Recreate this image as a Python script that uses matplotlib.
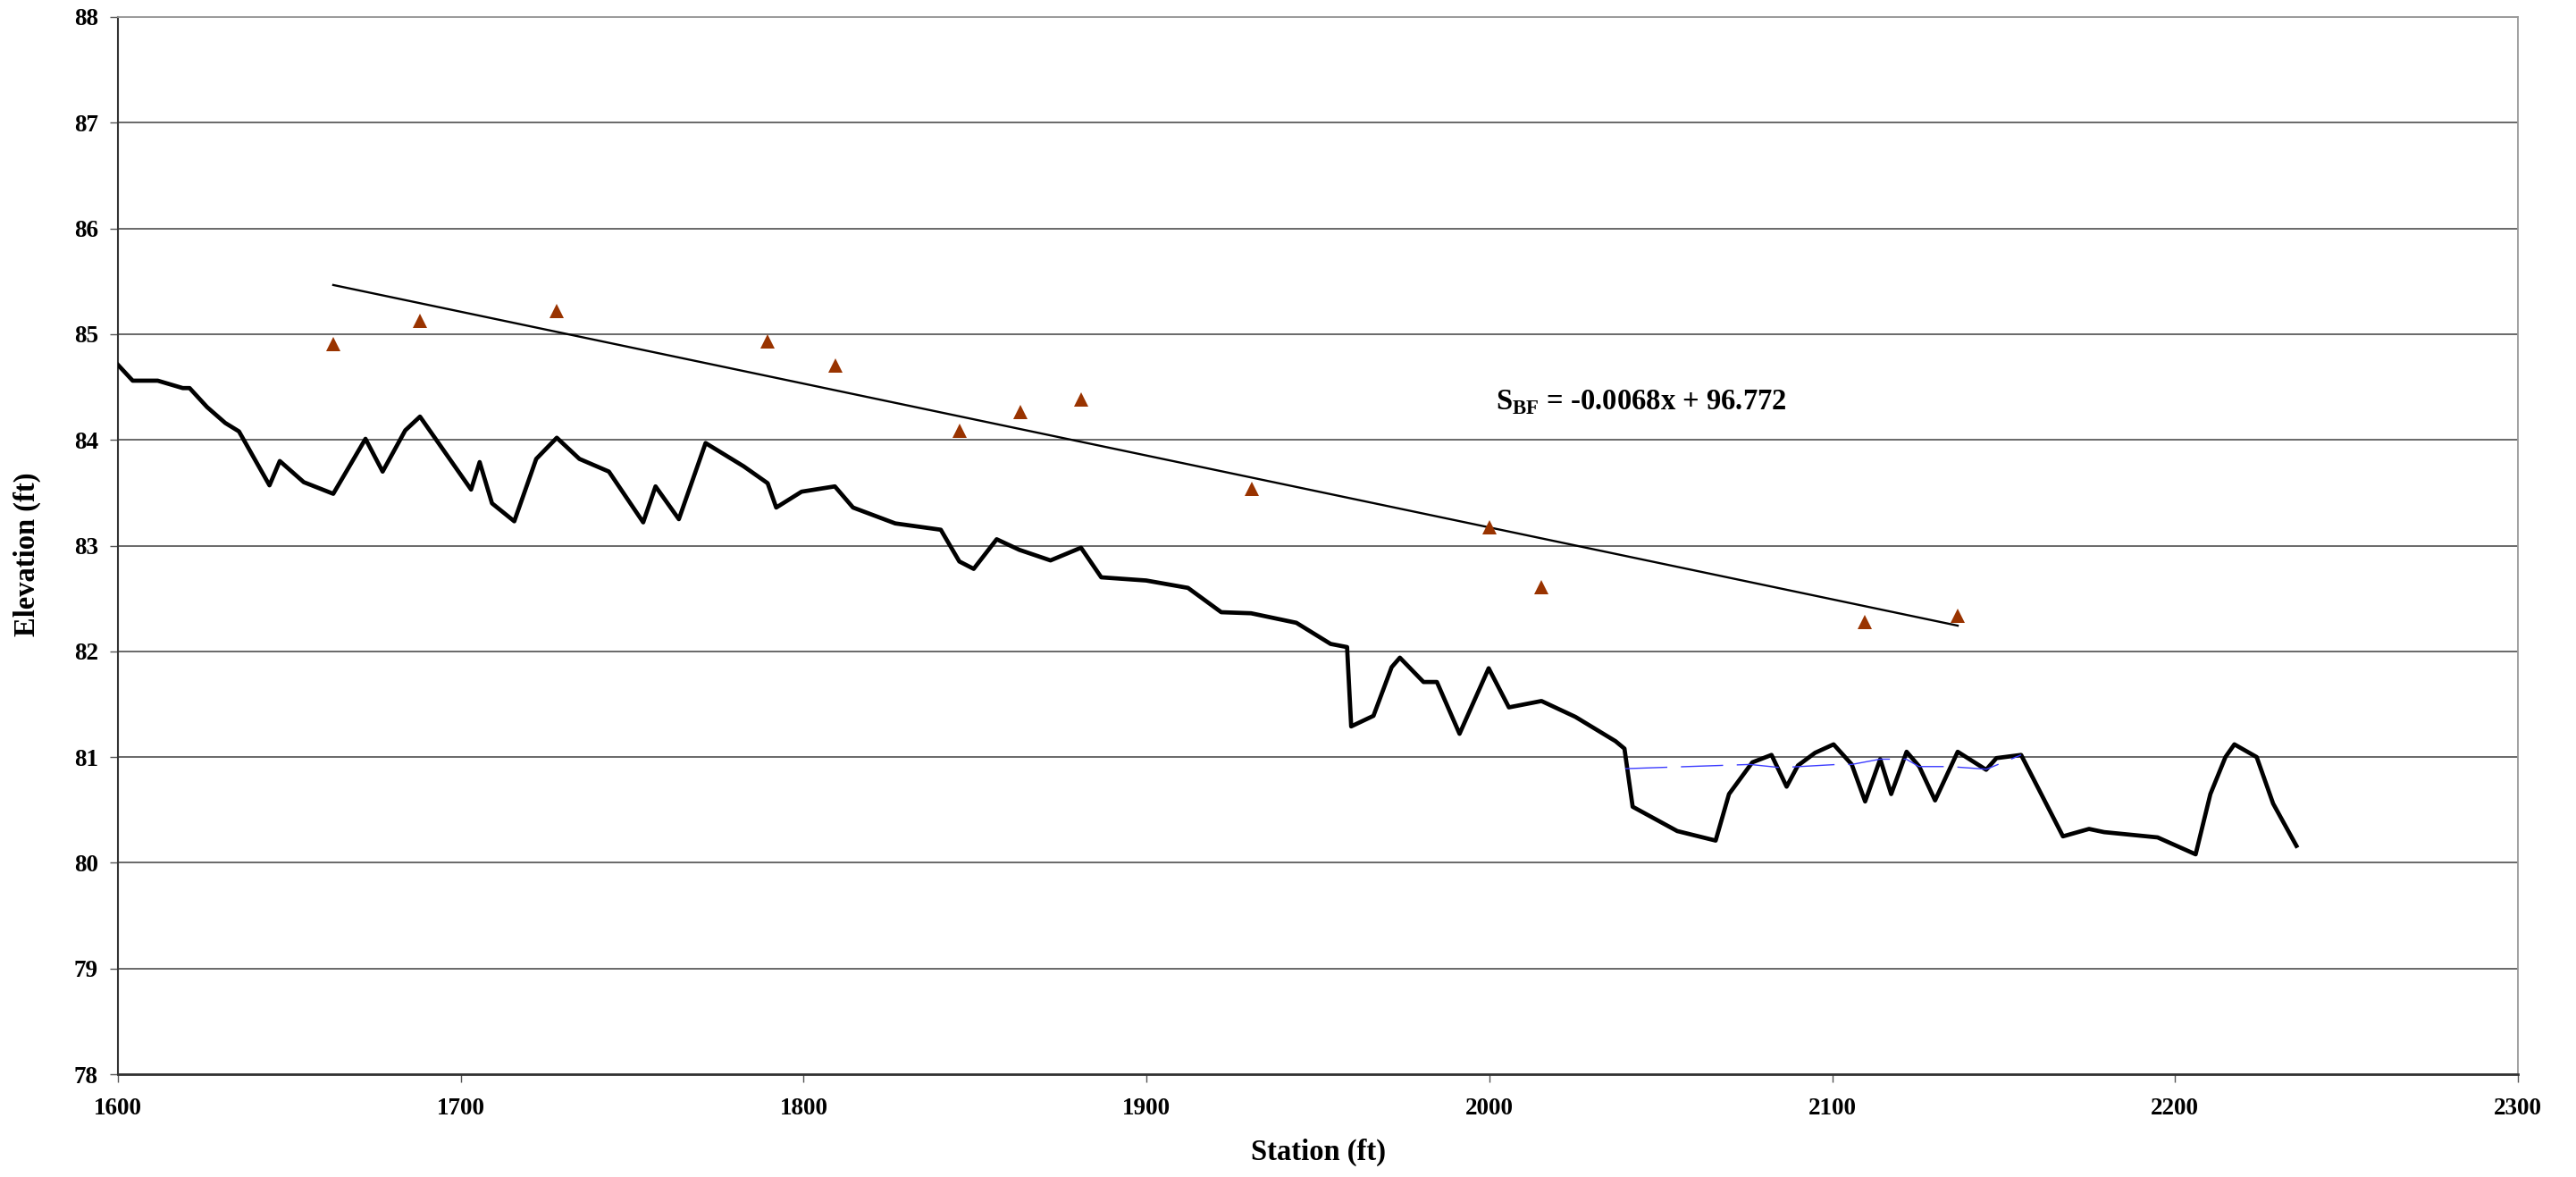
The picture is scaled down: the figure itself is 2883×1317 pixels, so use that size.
import numpy as np
import matplotlib
matplotlib.use("Agg")
import matplotlib.pyplot as plt

plt.rcParams['font.family'] = ['Liberation Serif', 'DejaVu Serif']
plt.rcParams['font.weight'] = 'bold'
plt.rcParams['mathtext.fontset'] = 'custom'
plt.rcParams['mathtext.rm'] = 'Liberation Serif:bold'
plt.rcParams['mathtext.bf'] = 'Liberation Serif:bold'

# thalweg profile (station ft, elevation ft)
station = [1600.0, 1604.3, 1611.6, 1618.9, 1620.9, 1626.0, 1631.3, 1635.3, 1644.2, 1647.2,
           1654.2, 1662.8, 1672.2, 1677.2, 1683.8, 1688.1, 1703.0, 1705.5, 1709.1, 1715.6,
           1722.0, 1728.0, 1734.6, 1743.2, 1753.2, 1756.8, 1763.6, 1771.4, 1782.5, 1789.5,
           1792.0, 1799.4, 1809.1, 1814.4, 1826.7, 1840.0, 1845.4, 1849.6, 1856.3, 1862.9,
           1872.0, 1880.9, 1886.8, 1899.9, 1912.1, 1921.8, 1930.5, 1943.7, 1953.7, 1958.5,
           1959.7, 1966.2, 1971.5, 1973.9, 1980.8, 1984.7, 1991.3, 1999.8, 2005.7, 2015.2,
           2025.1, 2036.8, 2039.4, 2041.8, 2054.8, 2066.0, 2069.9, 2076.7, 2082.3, 2086.7,
           2090.0, 2095.0, 2100.4, 2105.7, 2109.6, 2114.0, 2117.2, 2121.7, 2125.4, 2130.0,
           2136.6, 2144.9, 2147.9, 2155.1, 2167.3, 2174.9, 2179.3, 2194.9, 2206.0, 2210.3,
           2214.7, 2217.3, 2223.8, 2228.6, 2235.4]
elevation = [84.71, 84.56, 84.56, 84.49, 84.49, 84.31, 84.16, 84.08, 83.57, 83.80,
             83.60, 83.49, 84.01, 83.70, 84.09, 84.22, 83.53, 83.79, 83.40, 83.23,
             83.82, 84.02, 83.82, 83.70, 83.22, 83.56, 83.25, 83.97, 83.75, 83.59,
             83.36, 83.51, 83.56, 83.36, 83.21, 83.15, 82.85, 82.78, 83.06, 82.96,
             82.86, 82.98, 82.70, 82.67, 82.60, 82.37, 82.36, 82.27, 82.07, 82.04,
             81.29, 81.39, 81.85, 81.94, 81.71, 81.71, 81.22, 81.84, 81.47, 81.53,
             81.38, 81.15, 81.08, 80.53, 80.30, 80.21, 80.65, 80.95, 81.02, 80.72,
             80.92, 81.04, 81.12, 80.93, 80.58, 80.98, 80.65, 81.05, 80.91, 80.59,
             81.05, 80.88, 80.99, 81.02, 80.25, 80.32, 80.29, 80.24, 80.08, 80.65,
             81.00, 81.12, 81.00, 80.56, 80.16]

# water surface
ws_station = [2039.6, 2076.0, 2085.0, 2101.5, 2105.7, 2114.0, 2121.6, 2125.3, 2134.3, 2145.0, 2155.1]
ws_elevation = [80.89, 80.93, 80.90, 80.93, 80.93, 80.98, 80.98, 80.91, 80.91, 80.885, 81.02]

# bankfull indicators
bf_station = [1662.8, 1688.1, 1728.0, 1789.5, 1809.2, 1845.4, 1863.3, 1880.9, 1930.6,
              2000.0, 2015.1, 2109.5, 2136.6]
bf_elevation = [84.91, 85.13, 85.22, 84.935, 84.705, 84.09, 84.26, 84.38, 83.54,
                83.17, 82.61, 82.28, 82.34]

# bankfull slope fit
slope = -0.0068
intercept = 96.772

fig = plt.figure(figsize=(28.83, 13.17), dpi=100)
ax = fig.add_axes([132 / 2883, 1 - 1202 / 1317, 2686 / 2883, 1183 / 1317])

ax.set_xlim(1600, 2300)
ax.set_ylim(78, 88)
ax.set_xticks(np.arange(1600, 2301, 100))
ax.set_yticks(np.arange(78, 89, 1))
ax.yaxis.grid(True, color='#404040', linewidth=1.1)
ax.set_axisbelow(True)

ax.plot(station, elevation, color='black', linewidth=3.4, zorder=3)
ax.plot(ws_station, ws_elevation, color='#3c3cff', linewidth=1.0,
        linestyle=(0, (34, 11)), zorder=4)
ax.plot(bf_station, bf_elevation, linestyle='none', marker='^', markersize=11.5,
        color='#993300', markeredgewidth=0, zorder=5)

fit_x = np.array([min(bf_station), max(bf_station)])
ax.plot(fit_x, slope * fit_x + intercept, color='black', linewidth=1.7, zorder=4)

ax.text(2001.9, 84.29, r'S$_{\mathrm{BF}}$ = -0.0068x + 96.772', fontsize=23.5,
        fontweight='bold', ha='left', va='baseline')

for side in ['top', 'right']:
    ax.spines[side].set_color('#999999')
    ax.spines[side].set_linewidth(1.3)
ax.spines['left'].set_color('#333333')
ax.spines['left'].set_linewidth(1.5)
ax.spines['bottom'].set_color('#333333')
ax.spines['bottom'].set_linewidth(2.0)

ax.tick_params(axis='both', direction='out', length=6.5, width=1.0, color='#555555',
               labelsize=19.5)
ax.tick_params(axis='x', pad=12)
ax.tick_params(axis='y', pad=9.5)
for lab in ax.get_xticklabels() + ax.get_yticklabels():
    lab.set_fontweight('bold')

ax.set_xlabel('Station (ft)', fontsize=23.5, fontweight='bold')
ax.set_ylabel('Elevation (ft)', fontsize=23.5, fontweight='bold')
ax.xaxis.set_label_coords(0.5, -0.061)
ax.yaxis.set_label_coords(-0.032, 0.492)

fig.savefig('out.png', dpi=100, facecolor='white')
